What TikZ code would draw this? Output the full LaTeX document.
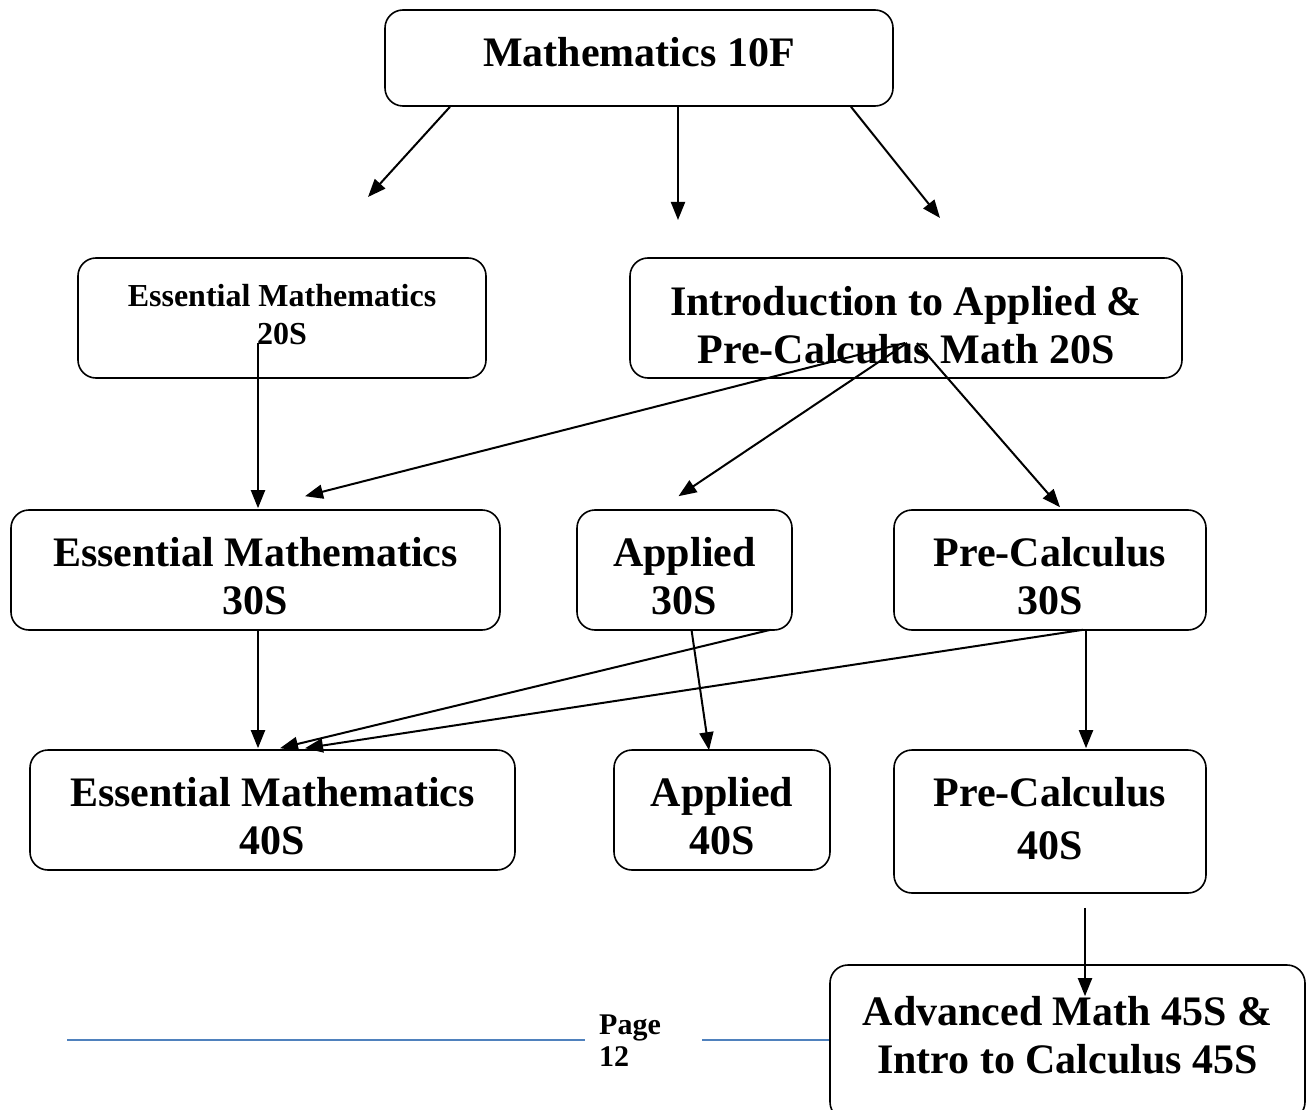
\documentclass[tikz,border=0pt]{standalone}
\usepackage{fontspec}
\setmainfont{Liberation Serif}
\usetikzlibrary{arrows.meta,calc}
\definecolor{footerblue}{RGB}{79,129,189}
\tikzset{
  % The course boxes, and the large and small text set in them
  course node/.style={draw,line width=1.6pt,rounded corners=18pt,inner sep=0pt},
  big text/.style={align=center,inner sep=0pt,font=\fontsize{42}{48}\selectfont\bfseries},
  small text/.style={big text,font=\fontsize{32}{38}\selectfont\bfseries},
  path arrow/.style={line width=2pt,-{Triangle[length=18pt,width=14pt]}}
}

\begin{document}
\begin{tikzpicture}[x=1pt,y=-1pt]
  \useasboundingbox (0,0) rectangle (1307,1110);
  \clip (0,0) rectangle (1307,1110);
  % The courses
  \node(10F)[course node,minimum width=508pt,minimum height=96pt,
    label={[big text,yshift=6pt]center:Mathematics 10F}] at (639,58) {};
  \node(E20)[course node,minimum width=408pt,minimum height=120pt,
    label={[small text,yshift=3pt]center:{Essential Mathematics\\20S}}] at (282,318) {};
  \node(I20)[course node,minimum width=552pt,minimum height=120pt,
    label={[big text,yshift=-7pt]center:{Introduction to Applied \&\\Pre-Calculus Math 20S}}] at (906,318) {};
  \node(E30)[course node,minimum width=489pt,minimum height=120pt,
    label={[big text,yshift=-6pt]center:{Essential Mathematics\\30S}}] at (255.5,570) {};
  \node(A30)[course node,minimum width=215pt,minimum height=120pt,
    label={[big text,yshift=-6pt]center:{Applied\\30S}}] at (684.5,570) {};
  \node(P30)[course node,minimum width=312pt,minimum height=120pt,
    label={[big text,yshift=-6pt]center:{Pre-Calculus\\30S}}] at (1050,570) {};
  \node(E40)[course node,minimum width=485pt,minimum height=120pt,
    label={[big text,yshift=-6pt]center:{Essential Mathematics\\40S}}] at (272.5,810) {};
  \node(A40)[course node,minimum width=216pt,minimum height=120pt,
    label={[big text,yshift=-6pt]center:{Applied\\40S}}] at (722,810) {};
  \node(P40)[course node,minimum width=312pt,minimum height=143pt,
    label={[big text,yshift=3pt]center:{Pre-Calculus\\[5pt]40S}}] at (1050,821.5) {};
  \node(A45)[course node,minimum width=475pt,minimum height=155pt,
    label={[big text,yshift=7pt]center:{Advanced Math 45S \&\\Intro to Calculus 45S}}] at (1067.5,1042.5) {};
  % free ends below 10F
  \coordinate(left end) at (368,197);
  \coordinate(mid end) at (678,220);
  \coordinate(right end) at (940,218);
  % The arrows
  \draw[path arrow]($(10F.south)+(-189,0)$) -- (left end);
  \draw[path arrow]($(10F.south)+(39,0)$) -- (mid end);
  \draw[path arrow]($(10F.south)+(212,0)$) -- (right end);
  \draw[path arrow]($(E20.south)+(-24,-36)$) -- ($(E30.north)+(2.5,-1)$);
  \draw[path arrow]($(I20.center)+(-1,25)$) -- ($(E30.north)+(49.5,-13)$);
  \draw[path arrow]($(I20.center)+(1,25)$) -- ($(A30.north)+(-6,-13)$);
  \draw[path arrow]($(I20.center)+(11,25)$) -- ($(P30.north)+(10,-2)$);
  \draw[path arrow]($(E30.south)+(2.5,0)$) -- ($(E40.north)+(-14.5,-1)$);
  \draw[path arrow]($(A30.south)+(86,-1)$) -- ($(E40.north)+(7.5,-1)$);
  \draw[path arrow]($(P30.south)+(33,-1)$) -- ($(E40.north)+(32.5,-1)$);
  \draw[path arrow]($(A30.south)+(7,-1)$) -- ($(A40.north)+(-13,1)$);
  \draw[path arrow]($(P30.south)+(36,-1)$) -- ($(P40.north)+(36,-1)$);
  \draw[path arrow]($(P40.south)+(35,14)$) -- ($(A45.north)+(17.5,32)$);
  % footer
  \draw[footerblue,line width=1.2pt](67,1040) -- (585,1040);
  \draw[footerblue,line width=1.2pt](702,1040) -- (A45.west|-0,1040);
  \node(page)[anchor=north west,align=left,inner sep=0pt,font=\fontsize{30}{32}\selectfont\bfseries] at (599,1015) {Page\\12};
\end{tikzpicture}
\end{document}
